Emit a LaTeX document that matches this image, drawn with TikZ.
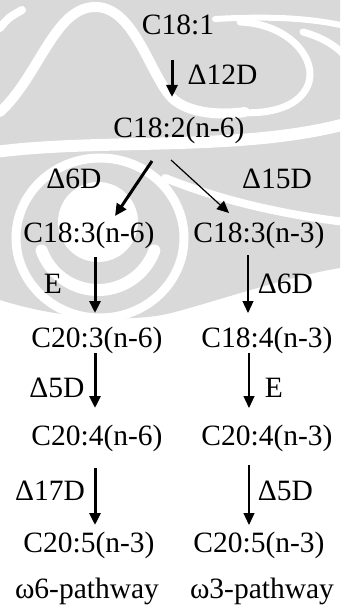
\documentclass[tikz,border=0pt]{standalone}
\usepackage{fontspec}
\setmainfont{Liberation Serif}
\usetikzlibrary{arrows.meta,calc}
\definecolor{wm}{HTML}{D9D9D9}
\tikzset{
  lbl/.style={inner sep=0pt, anchor=base, font=\fontsize{29.5}{32}\selectfont},
  thk/.style={line width=3pt, -{Triangle[length=12pt,width=11pt]}},
  thn/.style={line width=1.2pt, -{Triangle[length=12pt,width=11pt]}},
  wline/.style={draw=white, line width=#1, line cap=round},
}
\begin{document}
\begin{tikzpicture}[x=1pt,y=-1pt]
\useasboundingbox (0,0) rectangle (340,607);
% watermark background
\fill[wm] (0,0) -- (340,0) -- (340,268) .. controls (290,276) and (220,300) .. (175,312)
  .. controls (140,322) and (70,322) .. (0,300) -- cycle;
\draw[wline=9pt] (100,238) ellipse [x radius=84pt, y radius=80pt];
\fill[white] (98,222) circle[radius=40pt];
\draw[wline=12pt] ([shift={(200:60pt)}]98,230) arc[start angle=200,end angle=340,radius=60pt];
\draw[wline=10pt] (0,112) .. controls (40,75) and (55,5) .. (97,7)
  .. controls (135,9) and (150,75) .. (172,98) .. controls (190,115) and (225,115) .. (245,112);
\draw[wline=7pt] (240,22) .. controls (290,24) and (318,60) .. (308,85)
  .. controls (298,110) and (262,115) .. (235,112);
\draw[wline=6pt] (215,19) .. controls (270,16) and (310,18) .. (345,26);
\draw[wline=7pt] (303,32) .. controls (325,38) and (338,48) .. (345,56);
\draw[wline=8pt] (0,28) .. controls (8,18) .. (22,10);
\draw[wline=12pt] (-5,152) .. controls (100,138) and (240,152) .. (345,124);
\draw[wline=8pt] (165,178) .. controls (220,200) and (280,214) .. (345,222);
% nodes
\node[lbl] (c181) at (178,35) {C18:1};
\node[lbl] (l12) at (222.5,85) {Δ12D};
\node[lbl] (c182) at (179,137) {C18:2(n-6)};
\node[lbl] (l6a) at (74,188) {Δ6D};
\node[lbl] (l15) at (277,188) {Δ15D};
\node[lbl] (c183a) at (89,242) {C18:3(n-6)};
\node[lbl] (c183b) at (259,242) {C18:3(n-3)};
\node[lbl] (lE1) at (53,293) {E};
\node[lbl] (l6b) at (285.5,293) {Δ6D};
\node[lbl] (c203) at (97,347) {C20:3(n-6)};
\node[lbl] (c184) at (267,347) {C18:4(n-3)};
\node[lbl] (l5a) at (57,397) {Δ5D};
\node[lbl] (lE2) at (274,397) {E};
\node[lbl] (c204a) at (97,445) {C20:4(n-6)};
\node[lbl] (c204b) at (267,445) {C20:4(n-3)};
\node[lbl] (l17) at (50,500) {Δ17D};
\node[lbl] (l5b) at (285.5,500) {Δ5D};
\node[lbl] (c205a) at (89,552) {C20:5(n-3)};
\node[lbl] (c205b) at (259,552) {C20:5(n-3)};
\node[lbl] (w6) at (87,598) {ω6-pathway};
\node[lbl] (w3) at (262,598) {ω3-pathway};
% connectors
\draw[thk] ($(c181.base)+(-6,25)$) -- ($(c182.base)+(-7,-40)$);
\draw[thk] ($(c182.base)+(-27,24)$) -- ($(c183a.base)+(26,-26)$);
\draw[thn] ($(c182.base)+(-8,23)$) -- ($(c183b.base)+(-30,-29)$);
\draw[thk] ($(c183a.base)+(6,15)$) -- ($(c203.base)+(-2,-34)$);
\draw[thn] ($(c183b.base)+(-11,13)$) -- ($(c184.base)+(-19,-34)$);
\draw[thk] ($(c203.base)+(-2,6)$) -- ($(c204a.base)+(-2,-37)$);
\draw[thn] ($(c184.base)+(-18,6)$) -- ($(c204b.base)+(-18,-37)$);
\draw[thk] ($(c204a.base)+(-2,23)$) -- ($(c205a.base)+(6,-27)$);
\draw[thn] ($(c204b.base)+(-18,20)$) -- ($(c205b.base)+(-10,-27)$);
\end{tikzpicture}
\end{document}
